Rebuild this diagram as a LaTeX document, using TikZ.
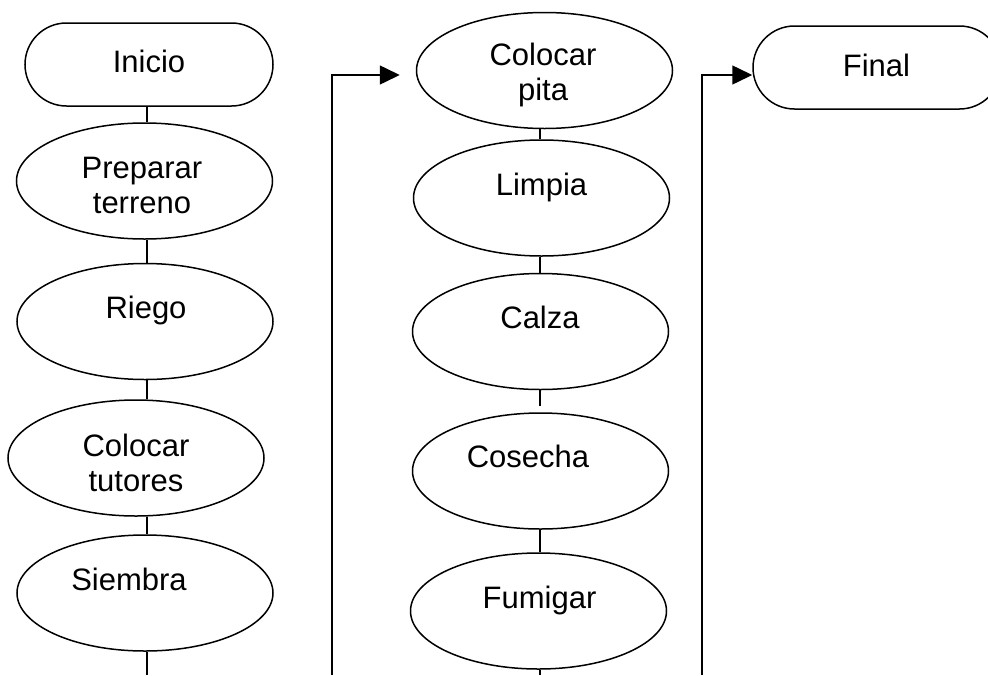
\documentclass[tikz,border=0pt]{standalone}
\usepackage{fontspec}
\setmainfont{Liberation Sans}
\usetikzlibrary{shapes.geometric, arrows.meta}

\begin{document}
\begin{tikzpicture}[x=1pt, y=-1pt, line width=1.5pt]

    \tikzset{%
        term/.style={draw, rectangle, rounded corners=41.5pt, minimum width=248pt, minimum height=83pt, inner sep=0pt},
        proc/.style={draw, ellipse, minimum width=256pt, minimum height=116pt, inner sep=0pt},
        txt/.style={inner sep=0pt, align=center, anchor=base, font=\fontsize{31pt}{35pt}\selectfont},
        link/.style={-},
        flow/.style={-{Triangle[length=20pt, width=19pt]}}
    }

    \useasboundingbox (0,0) rectangle (988,675);
    \clip (0,0) rectangle (988,675);

    % first column
    \node[term] (inicio) at (149, 64.5) {};
    \node[proc] (prep) at (144.5, 181) {};
    \node[proc] (riego) at (145, 321.5) {};
    \node[proc] (tutores) at (136, 458) {};
    \node[proc] (siembra) at (145, 593) {};

    % second column
    \node[proc] (pita) at (544.5, 70.5) {};
    \node[proc] (limpia) at (541.5, 198) {};
    \node[proc] (calza) at (540.5, 331.5) {};
    \node[proc] (cosecha) at (540.5, 471) {};
    \node[proc] (fumigar) at (538.5, 611) {};

    % end
    \node[term] (final) at (877, 67.5) {};

    % texts (base of the last line)
    \node[txt] (inicioT) at (149, 72) {Inicio};
    \node[txt] (prepT) at (142, 213) {Preparar\\terreno};
    \node[txt] (riegoT) at (146, 318) {Riego};
    \node[txt] (tutoresT) at (136, 491) {Colocar\\tutores};
    \node[txt] (siembraT) at (129, 590) {Siembra};
    \node[txt] (pitaT) at (543, 100) {Colocar\\pita};
    \node[txt] (limpiaT) at (541.5, 195) {Limpia};
    \node[txt] (calzaT) at (540, 328) {Calza};
    \node[txt] (cosechaT) at (528, 467) {Cosecha};
    \node[txt] (fumigarT) at (539.5, 608) {Fumigar};
    \node[txt] (finalT) at (876.5, 76) {Final};

    % connectors
    \coordinate (spineL) at (147, 0);
    \coordinate (spineM) at (540, 0);
    \coordinate (endL) at (147, 675);
    \coordinate (endM) at (540, 675);
    \coordinate (jumpA) at (332, 675);
    \coordinate (jumpB) at (702, 675);

    \foreach \a/\b in {inicio/prep, prep/riego, riego/tutores, tutores/siembra} {%
            \draw[link] (\a.south -| spineL) -- (\b.north -| spineL);
        }
    \draw[link] (siembra.south -| spineL) -- (endL);

    \foreach \a/\b in {pita/limpia, limpia/calza, cosecha/fumigar} {%
            \draw[link] (\a.south -| spineM) -- (\b.north -| spineM);
        }
    \draw[link, shorten >=6pt] (calza.south -| spineM) -- (cosecha.north -| spineM);
    \draw[link] (fumigar.south -| spineM) -- (endM);

    \draw[flow] (jumpA) |- ([shift={(-16,4.5)}]pita.west);
    \draw[flow] (jumpB) |- ([shift={(0,7.5)}]final.west);

\end{tikzpicture}
\end{document}
